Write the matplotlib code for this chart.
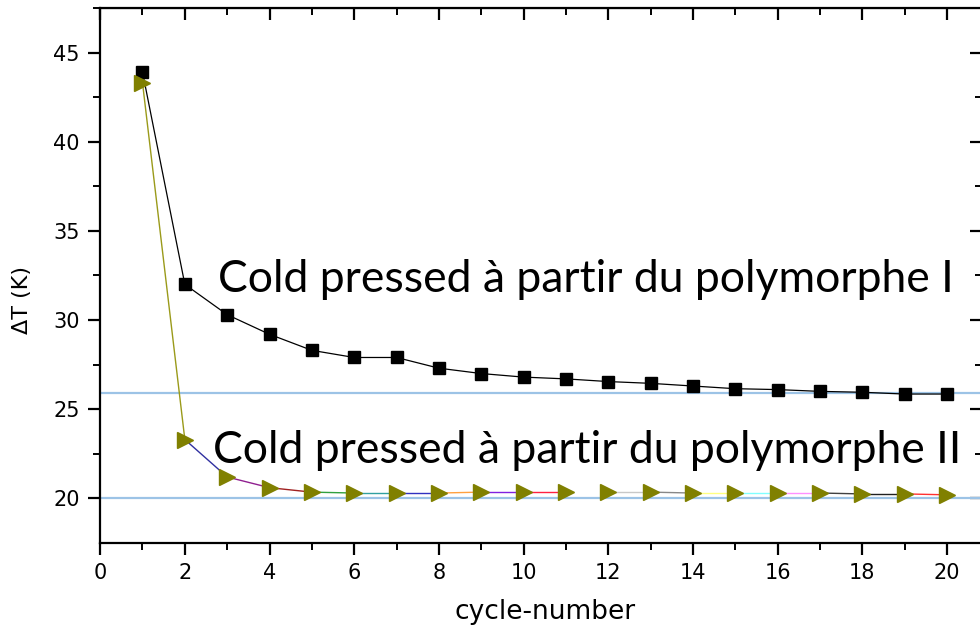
import matplotlib
matplotlib.use("Agg")
import matplotlib.pyplot as plt

# data
cycles = list(range(1, 21))
dt_poly1 = [43.9, 32.0, 30.3, 29.2, 28.3, 27.9, 27.9, 27.3, 27.0, 26.8,
            26.7, 26.55, 26.45, 26.3, 26.15, 26.1, 26.0, 25.95, 25.85, 25.85]
dt_poly2 = [43.3, 23.3, 21.2, 20.6, 20.35, 20.3, 20.3, 20.3, 20.35, 20.35,
            20.35, 20.35, 20.35, 20.3, 20.3, 20.3, 20.3, 20.25, 20.25, 20.2]
ref_levels = [25.9, 20.0]
label_poly1 = "Cold pressed à partir du polymorphe I"
label_poly2 = "Cold pressed à partir du polymorphe II"
seg_colors = ["#9a9a1a", "#3030a0", "#902090", "#a02020", "#30a040", "#30a0a0",
              "#3030c0", "#ffa040", "#8020e0", "#ff2040", "none", "#c8c8c8",
              "#888888", "#ffff80", "#80ffff", "#ff90ff", "#404040", "#202020",
              "#ff3030"]

fig = plt.figure(figsize=(9.8, 6.28), dpi=100)
ax = fig.add_axes([0.1022, 0.1354, 0.9, 0.852])

for y in ref_levels:
    ax.axhline(y, color="#9cc3e6", lw=1.6, zorder=1)

ax.plot(cycles, dt_poly1, color="black", lw=0.9, marker="s", ms=8.5,
        mfc="black", mec="black", zorder=3)

# segments between the triangles each have their own colour
for i, c in enumerate(seg_colors):
    if c == "none":
        continue
    ax.plot(cycles[i:i + 2], dt_poly2[i:i + 2], color=c, lw=1.0, zorder=2)
ax.plot(cycles, dt_poly2, ls="none", marker=">", ms=12, mfc="#808000",
        mec="#808000", zorder=4)

ax.text(2.78, 31.55, label_poly1, fontsize=32, family="Lato", color="black")
ax.text(2.66, 22.0, label_poly2, fontsize=32, family="Lato", color="black")

ax.set_xlim(0, 20.83)
ax.set_ylim(17.5, 47.5)
ax.set_xticks(range(0, 21, 2))
ax.set_xticks(range(1, 21, 2), minor=True)
ax.set_yticks([20, 25, 30, 35, 40, 45])
ax.set_yticks([22.5, 27.5, 32.5, 37.5, 42.5, 47.5], minor=True)

font = "DejaVu Sans"
ax.tick_params(which="major", direction="out", length=8.6, width=1.6,
               labelsize=15, pad=6)
ax.tick_params(which="minor", direction="out", length=5, width=1.4)
for lab in ax.get_xticklabels() + ax.get_yticklabels():
    lab.set_family(font)

for s in ax.spines.values():
    s.set_linewidth(1.6)

top = ax.secondary_xaxis("top")
top.set_xticks(range(0, 21, 2))
top.set_xticks(range(1, 21, 2), minor=True)
top.tick_params(which="major", direction="in", length=8.6, width=1.6, labeltop=False)
top.tick_params(which="minor", direction="in", length=5, width=1.4)
right = ax.secondary_yaxis("right")
right.set_yticks([20, 25, 30, 35, 40, 45])
right.set_yticks([22.5, 27.5, 32.5, 37.5, 42.5, 47.5], minor=True)
right.tick_params(which="major", direction="in", length=8.6, width=1.6, labelright=False)
right.tick_params(which="minor", direction="in", length=5, width=1.4)

ax.set_xlabel("cycle-number", family=font, fontsize=19)
ax.set_ylabel("ΔT (K)", family=font, fontsize=16)
ax.xaxis.set_label_coords(0.504, -0.105)
ax.yaxis.set_label_coords(-0.077, 0.454)

fig.savefig("out.png", dpi=100)
